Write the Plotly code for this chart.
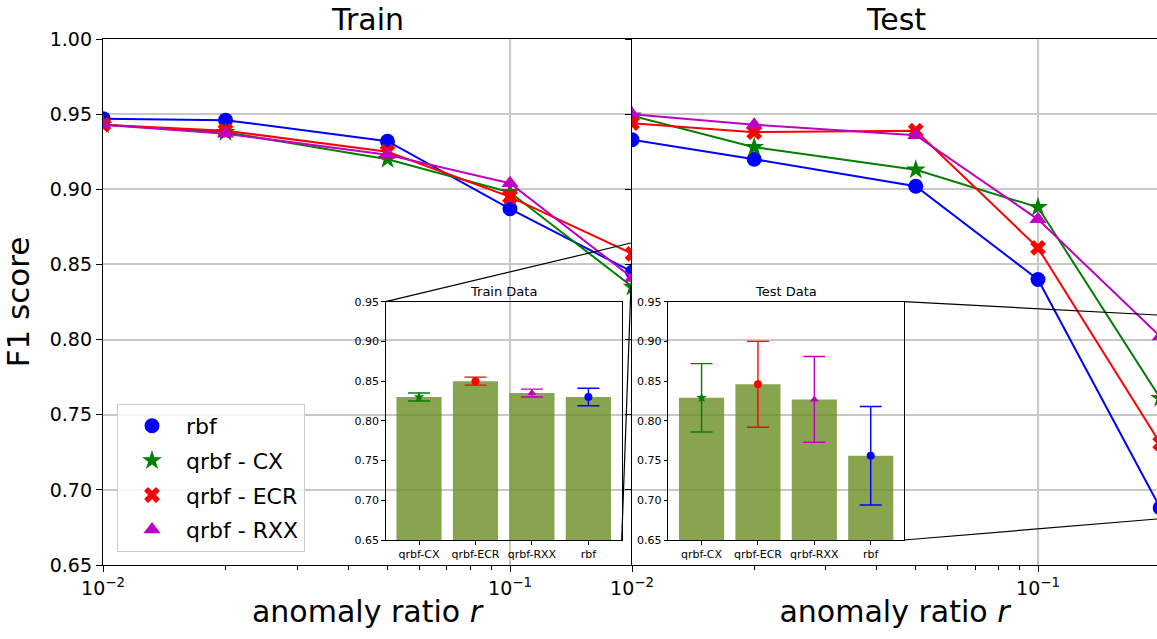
import plotly.graph_objects as go

# ---------------- data ----------------
anomaly_ratio = [0.01, 0.02, 0.05, 0.1, 0.2]

train_rbf = [0.947, 0.946, 0.932, 0.887, 0.845]
train_cx = [0.943, 0.938, 0.920, 0.898, 0.835]
train_ecr = [0.943, 0.939, 0.925, 0.895, 0.857]
train_rxx = [0.943, 0.937, 0.923, 0.904, 0.841]

test_rbf = [0.933, 0.920, 0.902, 0.840, 0.688]
test_cx = [0.949, 0.928, 0.913, 0.888, 0.761]
test_ecr = [0.944, 0.938, 0.939, 0.861, 0.731]
test_rxx = [0.950, 0.943, 0.936, 0.880, 0.802]

inset_categories = ["qrbf-CX", "qrbf-ECR", "qrbf-RXX", "rbf"]
inset_train_mean = [0.830, 0.850, 0.835, 0.830]
inset_train_err = [0.005, 0.005, 0.005, 0.011]
inset_test_mean = [0.829, 0.846, 0.827, 0.756]
inset_test_err = [0.043, 0.054, 0.054, 0.062]

series_names = ["rbf", "qrbf - CX", "qrbf - ECR", "qrbf - RXX"]
y_ticks = [0.65, 0.70, 0.75, 0.80, 0.85, 0.90, 0.95, 1.00]
x_major = [0.01, 0.1]
x_major_text = ["10<sup>−2</sup>", "10<sup>−1</sup>"]
x_minor = [0.02, 0.03, 0.04, 0.05, 0.06, 0.07, 0.08, 0.09, 0.2]

# ---------------- styles ----------------
FONT = "DejaVu Sans"
colors = ["#0000ff", "#008000", "#ff0000", "#bf00bf"]
symbols = ["circle", "star", "x", "triangle-up"]
sizes = [15, 15, 14, 15]
inset_colors = ["#008000", "#ff0000", "#bf00bf", "#0000ff"]
inset_symbols = ["star", "circle", "triangle-up", "circle"]

W, H = 1157, 639
ML, MR, MT, MB = 103, 0, 39, 74
PW, PH = W - ML - MR, H - MT - MB


def px(xp):
    return (xp - ML) / PW


def py(yp):
    return (H - MB - yp) / PH


fig = go.Figure()

train_series = [train_rbf, train_cx, train_ecr, train_rxx]
test_series = [test_rbf, test_cx, test_ecr, test_rxx]

for k in range(4):
    for vals, xa, ya in [(train_series[k], "x", "y"), (test_series[k], "x2", "y2")]:
        fig.add_trace(go.Scatter(
            x=anomaly_ratio, y=vals, mode="lines+markers",
            line=dict(color=colors[k], width=2),
            marker=dict(symbol=symbols[k], size=sizes[k], color=colors[k], line=dict(width=0)),
            showlegend=False, xaxis=xa, yaxis=ya, name=series_names[k]))

# legend entries (markers only)
for k in range(4):
    fig.add_trace(go.Scatter(
        x=[None], y=[None], mode="markers", name=series_names[k],
        marker=dict(symbol=symbols[k], size=sizes[k], color=colors[k], line=dict(width=0)),
        xaxis="x", yaxis="y", legendgroup=series_names[k]))

# insets
for means, errs, xa, ya in [(inset_train_mean, inset_train_err, "x3", "y3"),
                            (inset_test_mean, inset_test_err, "x4", "y4")]:
    fig.add_trace(go.Bar(x=inset_categories, y=means, marker=dict(color="olivedrab", line=dict(width=0)),
                         opacity=0.8, width=0.8, xaxis=xa, yaxis=ya, showlegend=False))
    for i in range(4):
        fig.add_trace(go.Scatter(
            x=[inset_categories[i]], y=[means[i]], mode="markers",
            marker=dict(symbol=inset_symbols[i], size=8, color=inset_colors[i], line=dict(width=0)),
            error_y=dict(type="data", array=[errs[i]], color=inset_colors[i], thickness=1.4, width=11),
            xaxis=xa, yaxis=ya, showlegend=False))

axis_line = dict(showline=True, linecolor="black", linewidth=1.3, ticks="outside",
                 ticklen=6, tickwidth=1.3, tickcolor="black",
                 tickfont=dict(family=FONT, size=19, color="black"))

train_dom = [0, px(631)]
test_dom = [px(632), 1]
train_rng = [-2, -2 + (631 - 103) / 407]
test_rng = [-2, -2 + (1157 - 632) / 406]

xcommon = dict(type="log", tickmode="array", tickvals=x_major, ticktext=x_major_text,
               showgrid=True, gridcolor="#c8c8c8", gridwidth=1.5, zeroline=False,
               minor=dict(tickmode="array", tickvals=x_minor, ticks="outside", ticklen=3.5,
                          tickwidth=1, tickcolor="black", showgrid=False),
               title=dict(text="anomaly ratio <i>r</i>", font=dict(family=FONT, size=30, color="black"),
                          standoff=3),
               **axis_line)
ycommon = dict(range=[0.65, 1.0], tickmode="array", tickvals=y_ticks, tickformat=".2f",
               showgrid=True, gridcolor="#c8c8c8", gridwidth=1.5, zeroline=False, **axis_line)

fig.update_layout(
    xaxis=dict(domain=train_dom, range=train_rng, anchor="y", mirror=True, **xcommon),
    xaxis2=dict(domain=test_dom, range=test_rng, anchor="y2", mirror=True, **xcommon),
    yaxis=dict(domain=[0, 1], anchor="x", mirror=True,
               title=dict(text="F1 score", font=dict(family=FONT, size=31, color="black"), standoff=14),
               **ycommon),
    yaxis2=dict(domain=[0, 1], anchor="x2", matches="y", showticklabels=False, mirror=False, **ycommon),
)

inset_axis = dict(showline=True, linecolor="black", linewidth=1, mirror=True, ticks="outside",
                  ticklen=3.5, tickwidth=1, tickcolor="black", showgrid=False, zeroline=False,
                  tickfont=dict(family=FONT, size=11, color="black"))
inset_ydom = [py(540), py(301.7)]
fig.update_layout(
    xaxis3=dict(domain=[px(385.7), px(621.7)], anchor="y3", type="category",
                categoryorder="array", categoryarray=inset_categories, range=[-0.59, 3.59], **inset_axis),
    yaxis3=dict(domain=inset_ydom, anchor="x3", range=[0.65, 0.95], tickmode="array",
                tickvals=[0.65, 0.70, 0.75, 0.80, 0.85, 0.90, 0.95], tickformat=".2f", **inset_axis),
    xaxis4=dict(domain=[px(668.3), px(904)], anchor="y4", type="category",
                categoryorder="array", categoryarray=inset_categories, range=[-0.59, 3.59], **inset_axis),
    yaxis4=dict(domain=inset_ydom, anchor="x4", range=[0.65, 0.95], tickmode="array",
                tickvals=[0.65, 0.70, 0.75, 0.80, 0.85, 0.90, 0.95], tickformat=".2f", **inset_axis),
)

# titles
for txt, xc in [("Train", (train_dom[0] + train_dom[1]) / 2), ("Test", px(896))]:
    fig.add_annotation(text=txt, x=xc, y=1, xref="paper", yref="paper",
                       xanchor="center", yanchor="bottom", yshift=0, showarrow=False,
                       font=dict(family=FONT, size=30, color="black"))
for txt, dom in [("Train Data", [px(385.7), px(621.7)]), ("Test Data", [px(668.3), px(904)])]:
    fig.add_annotation(text=txt, x=(dom[0] + dom[1]) / 2, y=inset_ydom[1], xref="paper", yref="paper",
                       xanchor="center", yanchor="bottom", yshift=1, showarrow=False,
                       font=dict(family=FONT, size=13, color="black"))

# inset connector lines
connectors = [((385.7, 301.7), (631, 243)), ((621.7, 540), (631, 285)),
              ((904, 301.7), (1157, 315)), ((904, 540), (1157, 519))]
for (x0, y0), (x1, y1) in connectors:
    fig.add_shape(type="line", xref="paper", yref="paper", x0=px(x0), y0=py(y0), x1=px(x1), y1=py(y1),
                  line=dict(color="black", width=1.2))

fig.update_layout(
    width=W, height=H, margin=dict(l=ML, r=MR, t=MT, b=MB),
    paper_bgcolor="white", plot_bgcolor="rgba(0,0,0,0)",
    font=dict(family=FONT, color="black"),
    showlegend=True,
    legend=dict(x=px(117), y=py(404), xanchor="left", yanchor="top",
                bgcolor="rgba(255,255,255,0.85)", bordercolor="#cccccc", borderwidth=1,
                font=dict(family=FONT, size=22, color="black"), itemwidth=58,
                tracegroupgap=3, traceorder="grouped"),
)

fig.write_html("out.html", config={"displayModeBar": False},
               post_script="document.body.style.margin='0px';document.body.style.overflow='hidden';")
